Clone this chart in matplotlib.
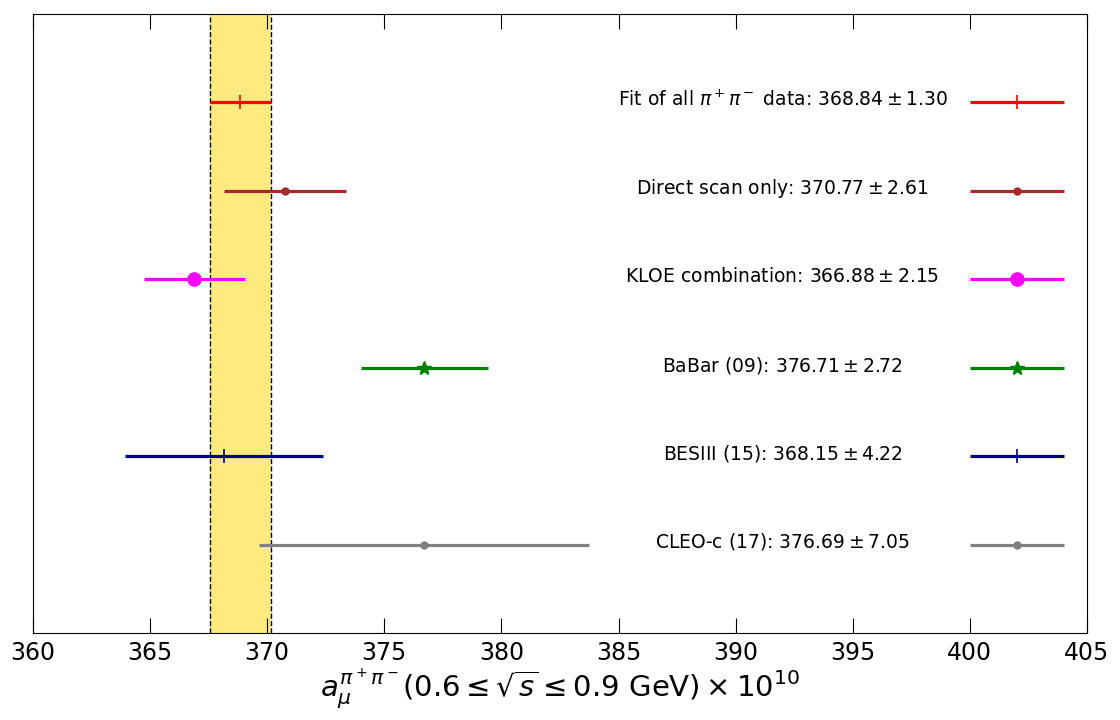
import matplotlib
matplotlib.use("Agg")
import matplotlib.pyplot as plt

labels = [r"Fit of all $\pi^+\pi^-$ data", "Direct scan only", "KLOE combination",
          "BaBar (09)", "BESIII (15)", "CLEO-c (17)"]
values = [368.84, 370.77, 366.88, 376.71, 368.15, 376.69]
errors = [1.30, 2.61, 2.15, 2.72, 4.22, 7.05]
colors = ["red", "brown", "magenta", "green", "navy", "gray"]
markers = ["+", "o", "o", "*", "+", "o"]
msizes = [10, 5, 9.5, 10, 10, 5]
xticks = [360, 365, 370, 375, 380, 385, 390, 395, 400, 405]

fig = plt.figure(figsize=(11.2, 7.2), dpi=100)
ax = fig.add_axes([0.0295, 0.1208, 0.941, 0.8598])

band_lo = values[0] - errors[0]
band_hi = values[0] + errors[0]
ax.axvspan(band_lo, band_hi, color="gold", alpha=0.5, lw=0, zorder=0)
ax.axvline(band_lo, color="black", ls="--", lw=1, zorder=1)
ax.axvline(band_hi, color="black", ls="--", lw=1, zorder=1)

n = len(values)
for i in range(n):
    y = n - i
    mew = 1.2 if markers[i] == "+" else 1
    ax.errorbar(values[i], y, xerr=errors[i], color=colors[i], marker=markers[i],
                ms=msizes[i], lw=2.3, capsize=0, mew=mew, zorder=3)
    ax.plot([400, 404], [y, y], color=colors[i], lw=2.3, solid_capstyle="butt", zorder=3)
    ax.plot([402], [y], color=colors[i], marker=markers[i], ms=msizes[i], mew=mew, zorder=4)
    ax.text(392, y + 0.03, labels[i] + r": $%.2f \pm %.2f$" % (values[i], errors[i]),
            ha="center", va="center", fontsize=13.5)

ax.set_xlim(360, 405)
ax.set_ylim(0, 7)
ax.set_xticks(xticks)
ax.set_yticks([])
ax.tick_params(axis="x", direction="in", top=True, bottom=True, length=11, labelsize=17, pad=6)
ax.set_xlabel(r"$a_\mu^{\pi^+\pi^-}(0.6 \leq \sqrt{s} \leq 0.9\ \mathrm{GeV}) \times 10^{10}$",
              fontsize=21, labelpad=1)

fig.savefig("out.png", dpi=100)
